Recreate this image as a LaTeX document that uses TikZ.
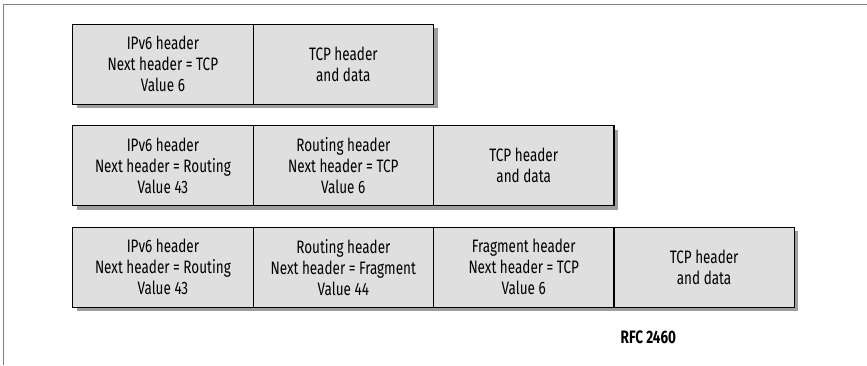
\documentclass[tikz,border=0pt]{standalone}
\usepackage{fontspec}
\setsansfont[FakeStretch=0.75]{Fira Sans}
\usetikzlibrary{positioning}
\usetikzlibrary{backgrounds}
\definecolor{cellgray}{HTML}{DFDFDF}
\definecolor{shadowgray}{HTML}{9E9E9E}
\definecolor{framegray}{HTML}{808080}

\begin{document}
\begin{tikzpicture}
        [x=1pt, y=-1pt,
         node distance=0pt,
         every node/.style={font=\sffamily\fontsize{18}{21}\selectfont},
         cell/.style={rectangle, draw=black, line width=1.2pt, fill=cellgray,
           minimum width=180.4pt, minimum height=80pt, inner sep=0pt, outer sep=0pt,
           align=center},
         shade row/.style={fill=shadowgray}]
        \useasboundingbox (0,0) rectangle (867,365);
        \draw [framegray, line width=1.6pt] (3.5,365) -- (3.5,4.5) -- (867,4.5);
        % one header only
        \node [cell, anchor=north west] (ipa) at (72.7,24.3) {IPv6 header\\Next header = TCP\\Value 6};
        \node [cell, right=of ipa] (tcpa) {TCP header\\and data};
        % with routing header
        \node [cell, below=21.4pt of ipa] (ipb) {IPv6 header\\Next header = Routing\\Value 43};
        \node [cell, right=of ipb] (routb) {Routing header\\Next header = TCP\\Value 6};
        \node [cell, right=of routb] (tcpb) {TCP header\\and data};
        % with routing and fragment headers
        \node [cell, below=21.4pt of ipb] (ipc) {IPv6 header\\Next header = Routing\\Value 43};
        \node [cell, right=of ipc] (routc) {Routing header\\Next header = Fragment\\Value 44};
        \node [cell, right=of routc] (fragc) {Fragment header\\Next header = TCP\\Value 6};
        \node [cell, right=of fragc] (tcpc) {TCP header\\and data};
        \node [anchor=west, inner sep=0pt, font=\sffamily\bfseries\fontsize{18}{21}\selectfont] (rfc) at (620.5,337) {RFC 2460};
        % shadows
        \begin{pgfonlayer}{background}
          \fill [shade row] ([shift={(4,4)}]ipa.north west) rectangle ([shift={(4,4)}]tcpa.south east);
          \fill [shade row] ([shift={(4,4)}]ipb.north west) rectangle ([shift={(4,4)}]tcpb.south east);
          \fill [shade row] ([shift={(4,4)}]ipc.north west) rectangle ([shift={(4,4)}]tcpc.south east);
        \end{pgfonlayer}
\end{tikzpicture}
\end{document}
